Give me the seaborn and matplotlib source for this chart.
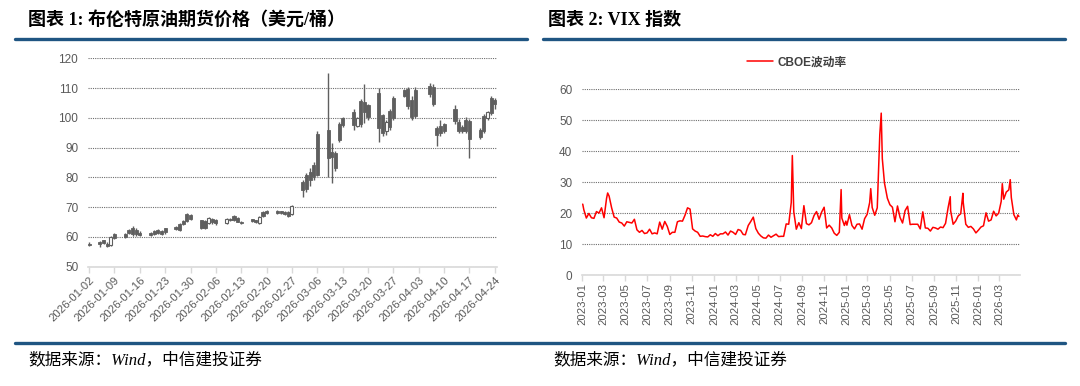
import matplotlib
matplotlib.use("Agg")
import matplotlib.pyplot as plt
import matplotlib.dates as mdates
from matplotlib.lines import Line2D
import seaborn as sns
import pandas as pd
import numpy as np

# ---- Brent futures daily OHLC (USD/bbl), 2026-01-02 .. 2026-04-24 ----
brent_dates = pd.bdate_range("2026-01-02", "2026-04-24").drop(pd.Timestamp("2026-04-03"))
brent_open = [57.7, 58.3, 58.8, 57.6, 57.3, 60.8, 61.0, 62.4, 63.0, 62.3, 61.4,
              61.2, 61.9, 62.3, 61.9, 62.8, 63.2, 64.2, 65.2, 67.5, 67.4,
              65.5, 65.3, 64.5, 66.0, 65.6, 64.5, 66.1, 67.0, 66.3, 65.1,
              65.9, 65.6, 64.6, 68.4, 68.7, 68.6, 68.5, 68.3, 68.4, 67.5,
              78.3, 80.6, 81.8, 84.2, 94.5, 95.8, 88.5, 88.3, 97.8, 99.8,
              102.0, 97.4, 105.5, 105.3, 104.2, 108.2, 100.8, 95.5, 102.2, 106.8,
              109.3, 109.8, 106.0, 109.5, 110.8, 110.5, 96.5, 97.2, 97.8,
              103.0, 98.7, 96.8, 99.2, 98.8, 96.0, 100.5, 99.8, 106.5, 106.0]
brent_high = [58.3, 58.6, 59.0, 58.2, 60.2, 61.1, 61.3, 62.7, 63.6, 62.8, 61.8,
              61.5, 62.3, 62.6, 62.2, 63.0, 63.6, 64.6, 65.6, 68.0, 67.8,
              65.8, 65.7, 66.6, 66.3, 65.9, 66.2, 66.4, 67.4, 66.5, 65.3,
              66.1, 65.8, 67.0, 68.8, 69.0, 68.9, 68.7, 68.5, 68.7, 70.8,
              79.0, 81.5, 83.0, 85.0, 95.5, 115.0, 91.5, 88.8, 98.5, 100.3,
              102.8, 100.2, 106.2, 111.5, 104.8, 110.0, 101.2, 99.2, 102.8, 107.2,
              109.6, 110.3, 107.2, 110.2, 111.6, 111.2, 97.2, 99.2, 98.2,
              104.2, 99.6, 97.6, 100.2, 99.6, 96.6, 101.2, 102.2, 107.2, 106.6]
brent_low = [56.9, 56.6, 57.5, 56.4, 57.0, 59.3, 59.6, 60.9, 60.4, 60.3, 60.2,
             60.3, 60.6, 60.9, 60.5, 61.0, 62.2, 61.9, 63.9, 65.1, 65.6,
             62.7, 62.5, 64.3, 64.4, 64.1, 64.3, 65.4, 65.3, 64.8, 64.3,
             65.0, 64.5, 64.3, 66.5, 67.8, 67.7, 67.7, 67.4, 66.5, 67.3,
             73.2, 75.2, 77.0, 79.0, 80.3, 80.2, 78.0, 82.0, 91.8, 96.8,
             96.0, 96.8, 97.0, 98.2, 99.4, 92.0, 94.0, 94.2, 96.0, 99.2,
             107.0, 103.0, 99.4, 99.8, 107.0, 104.0, 90.4, 94.0, 95.0,
             98.0, 95.0, 95.0, 95.0, 86.4, 93.0, 95.0, 99.4, 101.0, 103.0]
brent_close = [57.3, 57.6, 58.0, 56.9, 59.8, 59.7, 60.0, 61.2, 61.0, 60.8, 60.5,
               60.6, 61.0, 61.2, 60.8, 61.5, 62.5, 62.3, 64.2, 65.4, 66.1,
               63.1, 63.0, 66.2, 64.8, 64.5, 66.0, 65.7, 65.6, 65.0, 64.6,
               65.3, 64.8, 66.8, 66.9, 68.1, 68.0, 68.1, 67.7, 67.0, 70.5,
               75.6, 76.2, 79.0, 80.5, 80.6, 86.5, 86.8, 83.0, 92.5, 97.5,
               97.5, 99.8, 98.0, 102.0, 100.3, 96.5, 95.0, 98.6, 97.0, 100.0,
               107.4, 104.0, 100.2, 100.5, 108.0, 104.8, 94.2, 95.0, 95.5,
               98.8, 95.6, 95.4, 95.6, 93.0, 93.6, 95.6, 101.8, 101.5, 104.8]
brent_ticks = pd.date_range("2026-01-02", "2026-04-24", freq="7D")

# ---- CBOE VIX (roughly weekly plus spike days) ----
vix_dates = [
    "2023-01-03", "2023-01-06", "2023-01-13", "2023-01-20", "2023-01-27", "2023-02-03",
    "2023-02-10", "2023-02-17", "2023-02-24", "2023-03-03", "2023-03-10", "2023-03-13",
    "2023-03-17", "2023-03-24", "2023-03-31", "2023-04-07", "2023-04-14", "2023-04-21",
    "2023-04-28", "2023-05-05", "2023-05-12", "2023-05-19", "2023-05-26", "2023-06-02",
    "2023-06-09", "2023-06-16", "2023-06-23", "2023-06-30", "2023-07-07", "2023-07-14",
    "2023-07-21", "2023-07-28", "2023-08-04", "2023-08-11", "2023-08-18", "2023-08-25",
    "2023-09-01", "2023-09-08", "2023-09-15", "2023-09-22", "2023-09-29", "2023-10-06",
    "2023-10-13", "2023-10-20", "2023-10-27", "2023-11-03", "2023-11-10", "2023-11-17",
    "2023-11-24", "2023-12-01", "2023-12-08", "2023-12-15", "2023-12-22", "2023-12-29",
    "2024-01-05", "2024-01-12", "2024-01-19", "2024-01-26", "2024-02-02", "2024-02-09",
    "2024-02-16", "2024-02-23", "2024-03-01", "2024-03-08", "2024-03-15", "2024-03-22",
    "2024-03-28", "2024-04-05", "2024-04-12", "2024-04-19", "2024-04-26", "2024-05-03",
    "2024-05-10", "2024-05-17", "2024-05-24", "2024-05-31", "2024-06-07", "2024-06-14",
    "2024-06-21", "2024-06-28", "2024-07-05", "2024-07-12", "2024-07-19", "2024-07-26",
    "2024-08-02", "2024-08-05", "2024-08-09", "2024-08-16", "2024-08-23", "2024-08-30",
    "2024-09-06", "2024-09-13", "2024-09-20", "2024-09-27", "2024-10-04", "2024-10-11",
    "2024-10-18", "2024-10-25", "2024-11-01", "2024-11-08", "2024-11-15", "2024-11-22",
    "2024-11-29", "2024-12-06", "2024-12-13", "2024-12-18", "2024-12-20", "2024-12-27",
    "2024-12-31", "2025-01-03", "2025-01-10", "2025-01-17", "2025-01-24", "2025-01-31",
    "2025-02-07", "2025-02-14", "2025-02-21", "2025-02-28", "2025-03-07", "2025-03-10",
    "2025-03-14", "2025-03-21", "2025-03-28", "2025-04-04", "2025-04-08", "2025-04-11",
    "2025-04-17", "2025-04-25", "2025-05-02", "2025-05-09", "2025-05-16", "2025-05-23",
    "2025-05-30", "2025-06-06", "2025-06-13", "2025-06-20", "2025-06-27", "2025-07-03",
    "2025-07-11", "2025-07-18", "2025-07-25", "2025-08-01", "2025-08-08", "2025-08-15",
    "2025-08-22", "2025-08-29", "2025-09-05", "2025-09-12", "2025-09-19", "2025-09-26",
    "2025-10-03", "2025-10-10", "2025-10-16", "2025-10-17", "2025-10-24", "2025-10-31",
    "2025-11-07", "2025-11-14", "2025-11-20", "2025-11-21", "2025-11-28", "2025-12-05",
    "2025-12-12", "2025-12-19", "2025-12-26", "2026-01-02", "2026-01-09", "2026-01-16",
    "2026-01-23", "2026-01-30", "2026-02-06", "2026-02-13", "2026-02-20", "2026-02-27",
    "2026-03-06", "2026-03-09", "2026-03-13", "2026-03-20", "2026-03-27", "2026-03-31",
    "2026-04-03", "2026-04-10", "2026-04-17", "2026-04-21", "2026-04-24",
]
vix_values = [
    22.9, 21.1, 18.4, 19.9, 18.5, 18.3,
    20.5, 20.0, 21.7, 18.5, 24.8, 26.5,
    25.5, 21.7, 18.7, 18.4, 17.1, 16.8,
    15.8, 17.2, 17.0, 16.8, 18.0, 14.6,
    13.8, 14.4, 13.4, 13.6, 14.8, 13.3,
    13.6, 13.3, 17.1, 14.8, 17.3, 15.7,
    13.1, 13.8, 13.8, 17.2, 17.5, 17.4,
    19.3, 21.7, 21.3, 14.9, 14.2, 13.8,
    12.5, 12.6, 12.4, 12.3, 13.0, 12.5,
    13.4, 12.7, 13.3, 13.3, 13.9, 12.9,
    14.2, 13.8, 13.1, 14.7, 14.4, 13.1,
    13.0, 16.0, 17.3, 18.7, 15.0, 13.5,
    12.6, 12.0, 11.9, 12.9, 12.2, 12.7,
    13.2, 12.4, 12.5, 12.5, 16.5, 16.4,
    23.4, 38.6, 20.4, 14.8, 16.9, 15.0,
    22.4, 16.6, 16.2, 16.9, 19.2, 20.5,
    18.0, 20.3, 21.9, 15.2, 16.1, 15.2,
    13.5, 12.8, 13.8, 27.6, 18.4, 16.0,
    17.4, 16.1, 19.5, 16.0, 14.9, 16.4,
    16.5, 14.8, 18.2, 19.6, 23.4, 27.9,
    21.8, 19.3, 21.7, 45.3, 52.3, 37.6,
    29.7, 24.8, 22.7, 21.9, 17.2, 22.3,
    18.6, 16.8, 20.8, 22.2, 16.3, 16.4,
    16.4, 16.4, 14.9, 20.4, 15.2, 15.1,
    14.2, 15.4, 15.2, 14.8, 15.5, 15.3,
    16.7, 21.7, 25.3, 20.8, 16.4, 17.4,
    19.1, 19.8, 26.4, 23.4, 16.4, 15.4,
    15.7, 14.9, 13.6, 14.5, 15.5, 15.9,
    20.1, 17.4, 17.8, 20.6, 19.1, 20.0,
    23.8, 29.5, 24.5, 26.8, 27.5, 30.8,
    25.0, 19.5, 17.8, 19.4, 18.9,
]
vix_ticks = pd.date_range("2023-01-01", "2026-03-01", freq="2MS")

sns.set_theme(style="white")
plt.rcParams["font.family"] = ["Liberation Sans", "Noto Sans CJK SC", "DejaVu Sans"]
plt.rcParams["axes.unicode_minus"] = False

TICK_GREY = "#595959"
AXIS_GREY = "#d9d9d9"
CANDLE = "#5f5f5f"
RULE_BLUE = "#1f5582"

fig = plt.figure(figsize=(10.8, 3.86), dpi=100)
ax1 = fig.add_axes([88 / 1080, 1 - 266.5 / 386, 409 / 1080, 208.2 / 386])
ax2 = fig.add_axes([582 / 1080, 1 - 275 / 386, 438 / 1080, 185.7 / 386])


def style_axis(ax):
    for side in ["left", "top", "right"]:
        ax.spines[side].set_visible(False)
    ax.spines["bottom"].set_color(AXIS_GREY)
    ax.spines["bottom"].set_linewidth(1.2)
    ax.spines["bottom"].set_zorder(5)
    ax.yaxis.grid(True, linestyle=(0, (1, 1)), color="#6e6e6e", linewidth=0.8)
    ax.xaxis.grid(False)
    ax.tick_params(axis="y", length=0, pad=7, labelsize=8.5, labelcolor=TICK_GREY)
    ax.tick_params(axis="x", bottom=True, length=4, width=1, color=AXIS_GREY,
                   labelsize=8.2, labelcolor=TICK_GREY, pad=2)


# ---- left: candlesticks ----
x1 = mdates.date2num(brent_dates)
o = np.array(brent_open)
c = np.array(brent_close)
up = c >= o
ax1.vlines(x1, brent_low, brent_high, color=CANDLE, linewidth=1.0, zorder=3)
ax1.bar(x1[~up], (o - c)[~up], bottom=c[~up], width=0.85, color=CANDLE,
        edgecolor=CANDLE, linewidth=0.6, zorder=4)
ax1.bar(x1[up], (c - o)[up], bottom=o[up], width=0.85, color="white",
        edgecolor=CANDLE, linewidth=0.8, zorder=4)
ax1.set_ylim(50, 120)
ax1.set_yticks(range(50, 121, 10))
ax1.set_xlim(mdates.date2num(pd.Timestamp("2026-01-02")) - 0.3,
             mdates.date2num(pd.Timestamp("2026-04-24")) + 0.6)
ax1.set_xticks(mdates.date2num(brent_ticks))
ax1.set_xticklabels([d.strftime("%Y-%m-%d") for d in brent_ticks], rotation=45,
                    ha="right", rotation_mode="anchor")
style_axis(ax1)

# ---- right: VIX line ----
vix = pd.DataFrame({"date": pd.to_datetime(vix_dates), "vix": vix_values})
sns.lineplot(data=vix, x="date", y="vix", ax=ax2, color="#ff0000", linewidth=1.1,
             legend=False)
ax2.set_xlabel("")
ax2.set_ylabel("")
ax1.set_xlabel("")
ax2.set_ylim(0, 60)
ax2.set_yticks(range(0, 61, 10))
ax2.set_xlim(pd.Timestamp("2023-01-01"), pd.Timestamp("2026-04-27"))
ax2.set_xticks(vix_ticks)
ax2.set_xticklabels([d.strftime("%Y-%m") for d in vix_ticks], rotation=90)
style_axis(ax2)
handle = Line2D([], [], color="#ff0000", linewidth=1.1)
leg = ax2.legend([handle], ["CBOE波动率"], loc="center", bbox_to_anchor=(0.49, 1.145),
                 frameon=False, handlelength=2.2, handletextpad=0.4,
                 prop={"size": 8.5, "weight": "bold",
                       "family": ["Liberation Sans", "Noto Sans CJK SC"]})
for t in leg.get_texts():
    t.set_color("#404040")

# ---- titles, rules, footers ----
title_font = ["Liberation Serif", "Noto Sans CJK SC"]
fig.text(28 / 1080, 1 - 20 / 386, "图表 1: 布伦特原油期货价格（美元/桶）", fontsize=13,
         fontweight="bold", family=title_font, va="center", ha="left", color="#000000")
fig.text(548 / 1080, 1 - 20 / 386, "图表 2: VIX 指数", fontsize=13,
         fontweight="bold", family=title_font, va="center", ha="left", color="#000000")

y_top = 1 - 38.5 / 386
fig.add_artist(Line2D([15 / 1080, 527 / 1080], [y_top, y_top], color=RULE_BLUE,
                      linewidth=2.4, transform=fig.transFigure))
fig.add_artist(Line2D([543 / 1080, 1065 / 1080], [y_top, y_top], color=RULE_BLUE,
                      linewidth=2.4, transform=fig.transFigure))
y_bot = 1 - 343 / 386
fig.add_artist(Line2D([15 / 1080, 1065 / 1080], [y_bot, y_bot], color=RULE_BLUE,
                      linewidth=2.4, transform=fig.transFigure))

foot_font = ["Liberation Serif", "Noto Sans CJK SC"]
for fx in [28 / 1080, 553 / 1080]:
    fig.text(fx, 1 - 360 / 386, "数据来源：Wind，中信建投证券", fontsize=12,
             family=foot_font, style="italic", va="center", ha="left", color="#000000")

fig.savefig("out.png", dpi=100)
